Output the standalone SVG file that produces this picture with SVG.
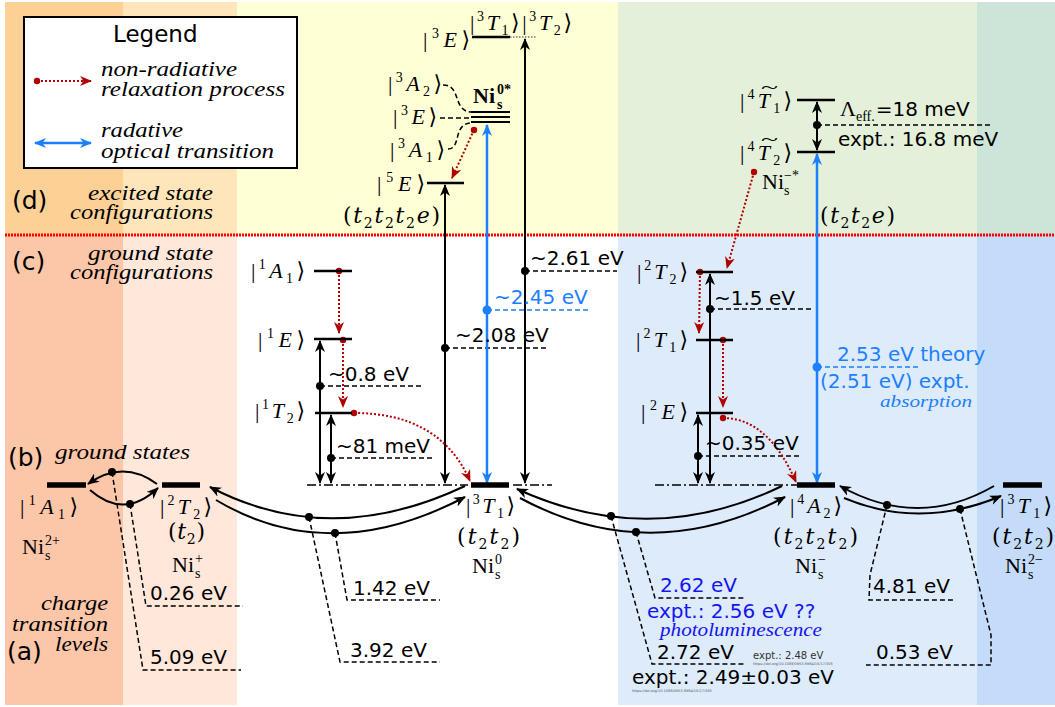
<svg xmlns="http://www.w3.org/2000/svg" width="1055" height="707" viewBox="0 0 1055 707">
<style>
.sans{font-family:"DejaVu Sans","Liberation Sans",sans-serif;font-size:20px;fill:#000}
.m{font-family:"Liberation Serif","DejaVu Serif","DejaVu Sans",serif;font-size:22px;fill:#000}
.it{font-style:italic}
.ss{font-size:14px}
.cfg{font-family:"DejaVu Serif","Liberation Serif",serif;font-size:22px;fill:#000}
.ital{font-family:"Liberation Serif","DejaVu Serif",serif;font-style:italic;font-size:21px;fill:#000}
.big{font-size:25px}
.lvl{stroke:#000;stroke-width:2.5}
.gnd{stroke:#000;stroke-width:5.5}
.dash{stroke:#000;stroke-width:1.5;stroke-dasharray:5,3;fill:none}
.dd{stroke:#000;stroke-width:1.3;stroke-dasharray:9,3,2,3;fill:none}
.arr{stroke:#000;stroke-width:2;fill:none;marker-start:url(#ak);marker-end:url(#ak)}
.arc{stroke:#000;stroke-width:2;fill:none;marker-end:url(#ak)}
.red{stroke:#b00000;stroke-width:2;stroke-dasharray:2,2;fill:none;marker-end:url(#ra)}
.rdot{fill:#b00000}
.blu{stroke:#1a80ff;stroke-width:2.5;fill:none;marker-start:url(#ab);marker-end:url(#ab)}
.bdash{stroke:#1a80ff;stroke-width:1.5;stroke-dasharray:5,3;fill:none}
.blue{fill:#1a80ff}
.dblue{fill:#1515f0}
.tiny{font-size:3.5px;fill:#555}
.small{font-size:10px;fill:#333}
.tld{font-size:16px}
</style>
<defs>
<marker id="ak" viewBox="0 0 12 10" refX="11" refY="5" markerWidth="12" markerHeight="10" markerUnits="userSpaceOnUse" orient="auto-start-reverse"><path d="M0,0 L12,5 L0,10 L3.5,5 Z" fill="#000"/></marker>
<marker id="ra" viewBox="0 0 12 10" refX="11" refY="5" markerWidth="12" markerHeight="10" markerUnits="userSpaceOnUse" orient="auto-start-reverse"><path d="M0,0 L12,5 L0,10 L3.5,5 Z" fill="#b00000"/></marker>
<marker id="ab" viewBox="0 0 12 10" refX="11" refY="5" markerWidth="12" markerHeight="10" markerUnits="userSpaceOnUse" orient="auto-start-reverse"><path d="M0,0 L12,5 L0,10 L3.5,5 Z" fill="#1a80ff"/></marker>
</defs>

<g id="background">
<rect x="5" y="2" width="118" height="233" fill="#FDD095"/>
<rect x="5" y="235" width="118" height="470" fill="#FCC6A8"/>
<rect x="123" y="2" width="114" height="233" fill="#FEE6BA"/>
<rect x="123" y="235" width="114" height="470" fill="#FFE7DA"/>
<rect x="237" y="2" width="381" height="233" fill="#FFFFD6"/>
<rect x="237" y="235" width="381" height="470" fill="#FFFFFF"/>
<rect x="618" y="2" width="359" height="233" fill="#E4F0D9"/>
<rect x="618" y="235" width="359" height="470" fill="#DEEBFB"/>
<rect x="977" y="2" width="78" height="233" fill="#CDE4D8"/>
<rect x="977" y="235" width="78" height="470" fill="#C4DCF9"/>
<line x1="5" y1="235" x2="1055" y2="235" stroke="#ff0000" stroke-width="3" stroke-dasharray="2,1"/>
</g>

<g id="legend">
<rect x="24" y="17" width="273" height="151" fill="#fff" stroke="#000" stroke-width="2"/>
<text class="sans" x="113" y="42" style="font-size:23px">Legend</text>
<path class="red" d="M37,81 L91,81"/>
<circle class="rdot" cx="37" cy="81" r="3.2"/>
<text class="ital" x="101" y="76" textLength="136" lengthAdjust="spacingAndGlyphs">non-radiative</text>
<text class="ital" x="101" y="96" textLength="184" lengthAdjust="spacingAndGlyphs">relaxation process</text>
<path class="blu" d="M35,143 L91,143"/>
<text class="ital" x="101" y="137" textLength="82" lengthAdjust="spacingAndGlyphs">radative</text>
<text class="ital" x="101" y="158" textLength="173" lengthAdjust="spacingAndGlyphs">optical transition</text>
</g>

<g id="section-labels">
<text class="sans big" x="12" y="209">(d)</text>
<text class="ital" x="88" y="200" textLength="125" lengthAdjust="spacingAndGlyphs">excited state</text>
<text class="ital" x="70" y="219" textLength="143" lengthAdjust="spacingAndGlyphs">configurations</text>
<text class="sans big" x="12" y="270">(c)</text>
<text class="ital" x="88" y="260" textLength="125" lengthAdjust="spacingAndGlyphs">ground state</text>
<text class="ital" x="70" y="279" textLength="143" lengthAdjust="spacingAndGlyphs">configurations</text>
<text class="sans big" x="8" y="466">(b)</text>
<text class="ital" x="55" y="459" textLength="135" lengthAdjust="spacingAndGlyphs">ground states</text>
<text class="ital" x="41" y="610" textLength="67" lengthAdjust="spacingAndGlyphs">charge</text>
<text class="ital" x="12" y="631" textLength="96" lengthAdjust="spacingAndGlyphs">transition</text>
<text class="sans big" x="7" y="660">(a)</text>
<text class="ital" x="55" y="651" textLength="53" lengthAdjust="spacingAndGlyphs">levels</text>
</g>

<g id="connectors">
<path class="arc" d="M157,484 Q123,459 88,484"/>
<path class="arc" d="M90,490 Q124,520 158,488"/>
<path class="arc" d="M465,486 Q330,550 210,487"/>
<path class="arc" d="M216,500 Q330,568 465,497"/>
<path class="arc" d="M782,486 Q650,550 517,489"/>
<path class="arc" d="M520,498 Q650,568 785,497"/>
<path class="arc" d="M994,486 Q918,530 840,486"/>
<path class="arc" d="M844,498 Q920,530 1001,496"/>
<path class="dash" d="M112,472 L143,670 L241,670"/>
<path class="dash" d="M130,504 L146,606 L243,606"/>
<path class="dash" d="M309,517 L340,662 L440,662"/>
<path class="dash" d="M335,533 L347,600 L440,600"/>
<path class="dash" d="M611,516 L652,664 L746,664"/>
<path class="dash" d="M636,532 L655,598 L746,598"/>
<path class="dash" d="M887,505 L870,575 L869,600 L955,600"/>
<path class="dash" d="M960,509 L991,635 L991,665 L866,665"/>
<g fill="#000">
<circle cx="112" cy="472" r="4"/><circle cx="130" cy="504" r="4"/>
<circle cx="309" cy="517" r="4"/><circle cx="335" cy="533" r="4"/>
<circle cx="611" cy="516" r="4"/><circle cx="636" cy="532" r="4"/>
<circle cx="887" cy="505" r="4"/><circle cx="960" cy="509" r="4"/>
</g>
<path class="dd" d="M307,485 L468,485 M513,485 L552,485 M655,485 L797,485"/>
<line x1="510" y1="37" x2="537" y2="37" stroke="#777" stroke-width="1.5" stroke-dasharray="1.5,1.5"/>
<path class="arr" d="M445,185 L445,483"/>
<path class="dash" d="M445,348 L548,348"/>
<path class="arr" d="M525,39 L525,483"/>
<path class="dash" d="M525,271 L617,271"/>
<path class="blu" d="M487,125 L487,483"/>
<path class="bdash" d="M487,310 L590,310"/>
<path class="arr" d="M320,341 L320,483"/>
<path class="dash" d="M320,386 L423,386"/>
<path class="arr" d="M331,415 L331,483"/>
<path class="dash" d="M331,458 L433,458"/>
<path class="arr" d="M710,274 L710,483"/>
<path class="dash" d="M710,309 L812,309"/>
<path class="arr" d="M698,415 L698,483"/>
<path class="dash" d="M698,456 L801,456"/>
<path class="blu" d="M817,154 L817,483"/>
<path class="bdash" d="M817,367 L918,367"/>
<path class="arr" d="M817,102 L817,150"/>
<path class="dash" d="M817,125 L993,125"/>
<g fill="#000">
<circle cx="445" cy="348" r="4"/><circle cx="525" cy="271" r="4"/>
<circle cx="320" cy="386" r="4"/><circle cx="331" cy="458" r="4"/>
<circle cx="710" cy="309" r="4"/><circle cx="698" cy="456" r="4"/>
<circle cx="817" cy="125" r="4"/>
</g>
<circle cx="487" cy="310" r="4.5" fill="#1a80ff"/>
<circle cx="817" cy="367" r="4.5" fill="#1a80ff"/>
<path class="dash" d="M443,85 C462,85 452,112 472,112"/>
<path class="dash" d="M440,118 L472,118"/>
<path class="dash" d="M448,149 C462,149 452,123 472,123"/>
<path class="red" d="M474,130 L452,178"/>
<path class="red" d="M339,271 L339,333"/>
<path class="red" d="M343,340 L343,407"/>
<path class="red" d="M354,413 Q440,413 470,481"/>
<path class="red" d="M754,172 L727,268"/>
<path class="red" d="M700,272 L699,333"/>
<path class="red" d="M723,340 L723,407"/>
<path class="red" d="M723,418 Q768,418 796,482"/>
<g class="rdot">
<circle cx="474" cy="130" r="3.2"/><circle cx="339" cy="271" r="3.2"/>
<circle cx="343" cy="340" r="3.2"/><circle cx="354" cy="413" r="3.2"/>
<circle cx="754" cy="172" r="3.2"/><circle cx="700" cy="272" r="3.2"/>
<circle cx="723" cy="340" r="3.2"/><circle cx="723" cy="418" r="3.2"/>
</g>
</g>

<g id="energy-labels">
<text class="sans" x="530" y="265">~2.61 eV</text>
<text class="sans blue" x="494" y="304">~2.45 eV</text>
<text class="sans" x="455" y="342">~2.08 eV</text>
<text class="sans" x="328" y="381">~0.8 eV</text>
<text class="sans" x="336" y="453">~81 meV</text>
<text class="sans" x="714" y="305">~1.5 eV</text>
<text class="sans" x="705" y="450">~0.35 eV</text>
<text class="sans blue" x="837" y="361">2.53 eV theory</text>
<text class="sans blue" x="820" y="388">(2.51 eV) expt.</text>
<text class="ital blue" x="880" y="407" style="font-size:17px" textLength="92" lengthAdjust="spacingAndGlyphs">absorption</text>
<text class="m" x="840" y="116">Λ<tspan class="ss" dy="5">eff.</tspan><tspan class="sans" dy="-5" dx="1">=18 meV</tspan></text>
<text class="sans" x="838" y="146">expt.: 16.8 meV</text>
<text class="sans" x="150" y="600">0.26 eV</text>
<text class="sans" x="150" y="664">5.09 eV</text>
<text class="sans" x="353" y="595">1.42 eV</text>
<text class="sans" x="350" y="657">3.92 eV</text>
<text class="sans dblue" x="660" y="592">2.62 eV</text>
<text class="sans dblue" x="647" y="618">expt.: 2.56 eV ??</text>
<text class="ital dblue" x="660" y="636" style="font-size:19px" textLength="162" lengthAdjust="spacingAndGlyphs">photoluminescence</text>
<text class="sans" x="657" y="659">2.72 eV</text>
<text class="sans small" x="753" y="659">expt.: 2.48 eV</text>
<text class="sans tiny" x="753" y="665">https://doi.org/10.1088/0953-8984/15/17/305</text>
<text class="sans" x="632" y="684">expt.: 2.49±0.03 eV</text>
<text class="sans tiny" x="632" y="692">https://doi.org/10.1088/0953-8984/15/17/305</text>
<text class="sans" x="873" y="593">4.81 eV</text>
<text class="sans" x="876" y="659">0.53 eV</text>
</g>

<g id="ni0-excited-3E-3T1-3T2">
<line class="lvl" x1="472" y1="37" x2="510" y2="37"/>
<text class="m" x="423" y="47" textLength="47">|<tspan class="ss" dy="-9">3</tspan><tspan class="it" dy="9">E</tspan>⟩</text>
<text class="m" x="470" y="30" textLength="102">|<tspan class="ss" dy="-9">3</tspan><tspan class="it" dy="9">T</tspan><tspan class="ss" dy="5">1</tspan><tspan dy="-5">⟩|</tspan><tspan class="ss" dy="-9">3</tspan><tspan class="it" dy="9">T</tspan><tspan class="ss" dy="5">2</tspan><tspan dy="-5">⟩</tspan></text>
</g>

<g id="ni0-star">
<line x1="471" y1="112" x2="510" y2="112" stroke="#000" stroke-width="2"/>
<line x1="471" y1="117" x2="510" y2="117" stroke="#000" stroke-width="2"/>
<line x1="471" y1="122" x2="510" y2="122" stroke="#000" stroke-width="2"/>
<text class="m" x="473" y="103" font-weight="bold">Ni<tspan class="ss" x="497" dy="6">s</tspan><tspan class="ss" x="497" dy="-15">0*</tspan></text>
<text class="m" x="388" y="91" textLength="54">|<tspan class="ss" dy="-9">3</tspan><tspan class="it" dy="9">A</tspan><tspan class="ss" dy="5">2</tspan><tspan dy="-5">⟩</tspan></text>
<text class="m" x="393" y="124" textLength="44">|<tspan class="ss" dy="-9">3</tspan><tspan class="it" dy="9">E</tspan>⟩</text>
<text class="m" x="390" y="157" textLength="55">|<tspan class="ss" dy="-9">3</tspan><tspan class="it" dy="9">A</tspan><tspan class="ss" dy="5">1</tspan><tspan dy="-5">⟩</tspan></text>
</g>

<g id="ni0-5E">
<line class="lvl" x1="427" y1="183" x2="464" y2="183"/>
<text class="m" x="377" y="191" textLength="48">|<tspan class="ss" dy="-9">5</tspan><tspan class="it" dy="9">E</tspan>⟩</text>
<text class="cfg" x="343" y="223" textLength="97">(<tspan class="it">t</tspan><tspan class="ss" dy="5">2</tspan><tspan class="it" dy="-5">t</tspan><tspan class="ss" dy="5">2</tspan><tspan class="it" dy="-5">t</tspan><tspan class="ss" dy="5">2</tspan><tspan class="it" dy="-5">e</tspan>)</text>
</g>

<g id="ni0-1A1">
<line class="lvl" x1="314" y1="271" x2="352" y2="271"/>
<text class="m" x="251" y="278" textLength="54">|<tspan class="ss" dy="-9">1</tspan><tspan class="it" dy="9">A</tspan><tspan class="ss" dy="5">1</tspan><tspan dy="-5">⟩</tspan></text>
</g>
<g id="ni0-1E">
<line class="lvl" x1="314" y1="339" x2="352" y2="339"/>
<text class="m" x="258" y="347" textLength="47">|<tspan class="ss" dy="-9">1</tspan><tspan class="it" dy="9">E</tspan>⟩</text>
</g>
<g id="ni0-1T2">
<line class="lvl" x1="315" y1="413" x2="352" y2="413"/>
<text class="m" x="255" y="418" textLength="50">|<tspan class="ss" dy="-9">1</tspan><tspan class="it" dy="9">T</tspan><tspan class="ss" dy="5">2</tspan><tspan dy="-5">⟩</tspan></text>
</g>

<g id="nim-4T1">
<line class="lvl" x1="797" y1="100" x2="835" y2="100"/>
<text class="m" x="740" y="108" textLength="52">|<tspan class="ss" dy="-9">4</tspan><tspan class="it" dy="9">T</tspan><tspan class="ss" dy="5">1</tspan><tspan dy="-5">⟩</tspan></text>
<text class="m tld" x="761" y="93" textLength="17" lengthAdjust="spacingAndGlyphs">~</text>
</g>
<g id="nim-4T2">
<line class="lvl" x1="797" y1="152" x2="835" y2="152"/>
<text class="m" x="740" y="160" textLength="52">|<tspan class="ss" dy="-9">4</tspan><tspan class="it" dy="9">T</tspan><tspan class="ss" dy="5">2</tspan><tspan dy="-5">⟩</tspan></text>
<text class="m tld" x="761" y="145" textLength="17" lengthAdjust="spacingAndGlyphs">~</text>
<text class="m" x="762" y="189">Ni<tspan class="ss" x="784" dy="6">s</tspan><tspan class="ss" x="784" dy="-15">−*</tspan></text>
<text class="cfg" x="820" y="223" textLength="75">(<tspan class="it">t</tspan><tspan class="ss" dy="5">2</tspan><tspan class="it" dy="-5">t</tspan><tspan class="ss" dy="5">2</tspan><tspan class="it" dy="-5">e</tspan>)</text>
</g>

<g id="nim-2T2">
<line class="lvl" x1="696" y1="272" x2="733" y2="272"/>
<text class="m" x="637" y="279" textLength="51">|<tspan class="ss" dy="-9">2</tspan><tspan class="it" dy="9">T</tspan><tspan class="ss" dy="5">2</tspan><tspan dy="-5">⟩</tspan></text>
</g>
<g id="nim-2T1">
<line class="lvl" x1="696" y1="340" x2="733" y2="340"/>
<text class="m" x="636" y="347" textLength="52">|<tspan class="ss" dy="-9">2</tspan><tspan class="it" dy="9">T</tspan><tspan class="ss" dy="5">1</tspan><tspan dy="-5">⟩</tspan></text>
</g>
<g id="nim-2E">
<line class="lvl" x1="696" y1="413" x2="733" y2="413"/>
<text class="m" x="641" y="419" textLength="47">|<tspan class="ss" dy="-9">2</tspan><tspan class="it" dy="9">E</tspan>⟩</text>
</g>

<g id="ni2p-ground">
<line class="gnd" x1="47" y1="485" x2="86" y2="485"/>
<text class="m" x="20" y="514" textLength="58">|<tspan class="ss" dy="-9">1</tspan><tspan class="it" dy="9">A</tspan><tspan class="ss" dy="5">1</tspan><tspan dy="-5">⟩</tspan></text>
<text class="m" x="22" y="554">Ni<tspan class="ss" x="45" dy="6">s</tspan><tspan class="ss" x="45" dy="-15">2+</tspan></text>
</g>
<g id="ni1p-ground">
<line class="gnd" x1="162" y1="485" x2="200" y2="485"/>
<text class="m" x="160" y="514" textLength="52">|<tspan class="ss" dy="-9">2</tspan><tspan class="it" dy="9">T</tspan><tspan class="ss" dy="5">2</tspan><tspan dy="-5">⟩</tspan></text>
<text class="cfg" x="168" y="539" textLength="37">(<tspan class="it">t</tspan><tspan class="ss" dy="5">2</tspan><tspan dy="-5">)</tspan></text>
<text class="m" x="172" y="572">Ni<tspan class="ss" x="195" dy="6">s</tspan><tspan class="ss" x="195" dy="-15">+</tspan></text>
</g>
<g id="ni0-ground">
<line class="gnd" x1="471" y1="485" x2="509" y2="485"/>
<text class="m" x="466" y="513" textLength="49">|<tspan class="ss" dy="-9">3</tspan><tspan class="it" dy="9">T</tspan><tspan class="ss" dy="5">1</tspan><tspan dy="-5">⟩</tspan></text>
<text class="cfg" x="457" y="544" textLength="63">(<tspan class="it">t</tspan><tspan class="ss" dy="5">2</tspan><tspan class="it" dy="-5">t</tspan><tspan class="ss" dy="5">2</tspan><tspan dy="-5">)</tspan></text>
<text class="m" x="472" y="573">Ni<tspan class="ss" x="495" dy="6">s</tspan><tspan class="ss" x="495" dy="-15">0</tspan></text>
</g>
<g id="nim-ground">
<line class="gnd" x1="797" y1="485" x2="835" y2="485"/>
<text class="m" x="790" y="513" textLength="52">|<tspan class="ss" dy="-9">4</tspan><tspan class="it" dy="9">A</tspan><tspan class="ss" dy="5">2</tspan><tspan dy="-5">⟩</tspan></text>
<text class="cfg" x="773" y="544" textLength="85">(<tspan class="it">t</tspan><tspan class="ss" dy="5">2</tspan><tspan class="it" dy="-5">t</tspan><tspan class="ss" dy="5">2</tspan><tspan class="it" dy="-5">t</tspan><tspan class="ss" dy="5">2</tspan><tspan dy="-5">)</tspan></text>
<text class="m" x="795" y="573">Ni<tspan class="ss" x="818" dy="6">s</tspan><tspan class="ss" x="818" dy="-15">−</tspan></text>
</g>
<g id="ni2m-ground">
<line class="gnd" x1="1003" y1="485" x2="1042" y2="485"/>
<text class="m" x="1000" y="513" textLength="52">|<tspan class="ss" dy="-9">3</tspan><tspan class="it" dy="9">T</tspan><tspan class="ss" dy="5">1</tspan><tspan dy="-5">⟩</tspan></text>
<text class="cfg" x="992" y="544" textLength="62">(<tspan class="it">t</tspan><tspan class="ss" dy="5">2</tspan><tspan class="it" dy="-5">t</tspan><tspan class="ss" dy="5">2</tspan><tspan dy="-5">)</tspan></text>
<text class="m" x="1005" y="573">Ni<tspan class="ss" x="1028" dy="6">s</tspan><tspan class="ss" x="1028" dy="-15">2−</tspan></text>
</g>
</svg>
